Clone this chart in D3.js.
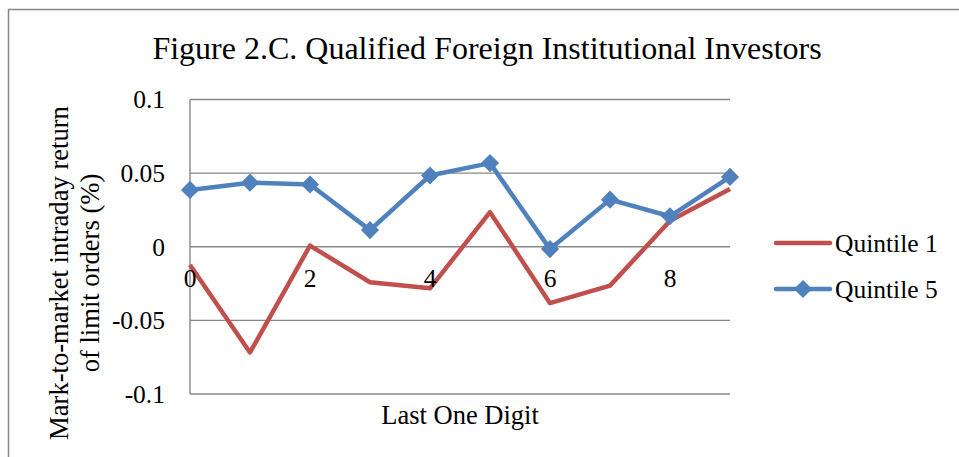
<!DOCTYPE html>
<html><head><meta charset="utf-8">
<script src="https://cdn.jsdelivr.net/npm/d3@7"></script>
<style>html,body{margin:0;padding:0;background:#fff;}svg{display:block;}</style>
</head><body>
<svg id="c" width="959" height="457"></svg>
<script>
const digits = [0,1,2,3,4,5,6,7,8,9];
const quintile1 = [-0.0124,-0.0718,0.0008,-0.0241,-0.0282,0.0235,-0.0383,-0.0264,0.0176,0.0392];
const quintile5 = [0.0386,0.0435,0.0423,0.0113,0.0484,0.0568,-0.0016,0.0320,0.0207,0.0474];
const yTicks = [-0.1,-0.05,0,0.05,0.1];
const yTickLabels = ["-0.1","-0.05","0","0.05","0.1"];
const xTicks = [0,2,4,6,8];
const seriesNames = ["Quintile 1","Quintile 5"];
const titleText = "Figure 2.C. Qualified Foreign Institutional Investors";
const yTitle = ["Mark-to-market intraday return","of limit orders (%)"];
const xTitle = "Last One Digit";

const RED = "#C0504D", BLUE = "#4F81BD", GRID = "#878787";
const FONT = "'Liberation Serif','Times New Roman',serif";
const svg = d3.select("#c");

// outer frame
svg.append("path").attr("d","M8.5,457 L8.5,9.5 L959,9.5").attr("fill","none").attr("stroke",GRID).attr("stroke-width",1.5);

const x = d3.scaleLinear().domain([0,9]).range([190,730]);
const y = d3.scaleLinear().domain([-0.1,0.1]).range([394,99.5]);

// gridlines
svg.append("g").selectAll("line").data(yTicks).join("line")
  .attr("x1",x(0)).attr("x2",x(9)).attr("y1",d=>y(d)).attr("y2",d=>y(d))
  .attr("stroke",GRID).attr("stroke-width",1.4);
// y axis line
svg.append("line").attr("x1",x(0)).attr("x2",x(0)).attr("y1",y(0.1)).attr("y2",y(-0.1))
  .attr("stroke",GRID).attr("stroke-width",1.4);

// y tick labels
svg.append("g").selectAll("text").data(yTicks).join("text")
  .attr("x",165).attr("y",d=>y(d)).attr("dy","0.35em").attr("text-anchor","end")
  .attr("font-family",FONT).attr("font-size",25.5).attr("fill","#000")
  .text((d,i)=>yTickLabels[i]);

// lines
const line = d3.line().x((d,i)=>x(digits[i])).y(d=>y(d));
svg.append("path").datum(quintile1).attr("d",line).attr("fill","none")
  .attr("stroke",RED).attr("stroke-width",4.5).attr("stroke-linejoin","round");
svg.append("path").datum(quintile5).attr("d",line).attr("fill","none")
  .attr("stroke",BLUE).attr("stroke-width",4.5).attr("stroke-linejoin","round");
const diamond = d3.symbol().type(d3.symbolSquare).size(165);
svg.append("g").selectAll("path").data(quintile5).join("path")
  .attr("d",diamond)
  .attr("transform",(d,i)=>`translate(${x(digits[i])},${y(d)}) rotate(45)`)
  .attr("fill",BLUE);

// x tick labels
svg.append("g").selectAll("text").data(xTicks).join("text")
  .attr("x",d=>x(d)).attr("y",287).attr("text-anchor","middle")
  .attr("font-family",FONT).attr("font-size",25.5).attr("fill","#000")
  .text(d=>d);

// titles
svg.append("text").attr("x",487).attr("y",59).attr("text-anchor","middle")
  .attr("font-family",FONT).attr("font-size",32).attr("fill","#000").text(titleText);
svg.append("text").attr("x",x(4.5)).attr("y",424).attr("text-anchor","middle")
  .attr("font-family",FONT).attr("font-size",26.5).attr("fill","#000").text(xTitle);
const yt = svg.append("text").attr("transform","translate(68,273) rotate(-90)")
  .attr("text-anchor","middle").attr("font-family",FONT).attr("font-size",26.6).attr("fill","#000");
yt.append("tspan").attr("x",0).attr("y",0).text(yTitle[0]);
yt.append("tspan").attr("x",0).attr("y",31).text(yTitle[1]);

// legend
const leg = svg.append("g");
const ly = [243,289];
[RED,BLUE].forEach((c,i)=>{
  leg.append("line").attr("x1",776).attr("x2",830).attr("y1",ly[i]).attr("y2",ly[i])
    .attr("stroke",c).attr("stroke-width",4.5).attr("stroke-linecap","round");
  if(i===1) leg.append("path").attr("d",diamond).attr("transform",`translate(803,${ly[i]}) rotate(45)`).attr("fill",c);
  leg.append("text").attr("x",835).attr("y",ly[i]+9).attr("font-family",FONT).attr("font-size",25.5)
    .attr("fill","#000").text(seriesNames[i]);
});
</script>
</body></html>
